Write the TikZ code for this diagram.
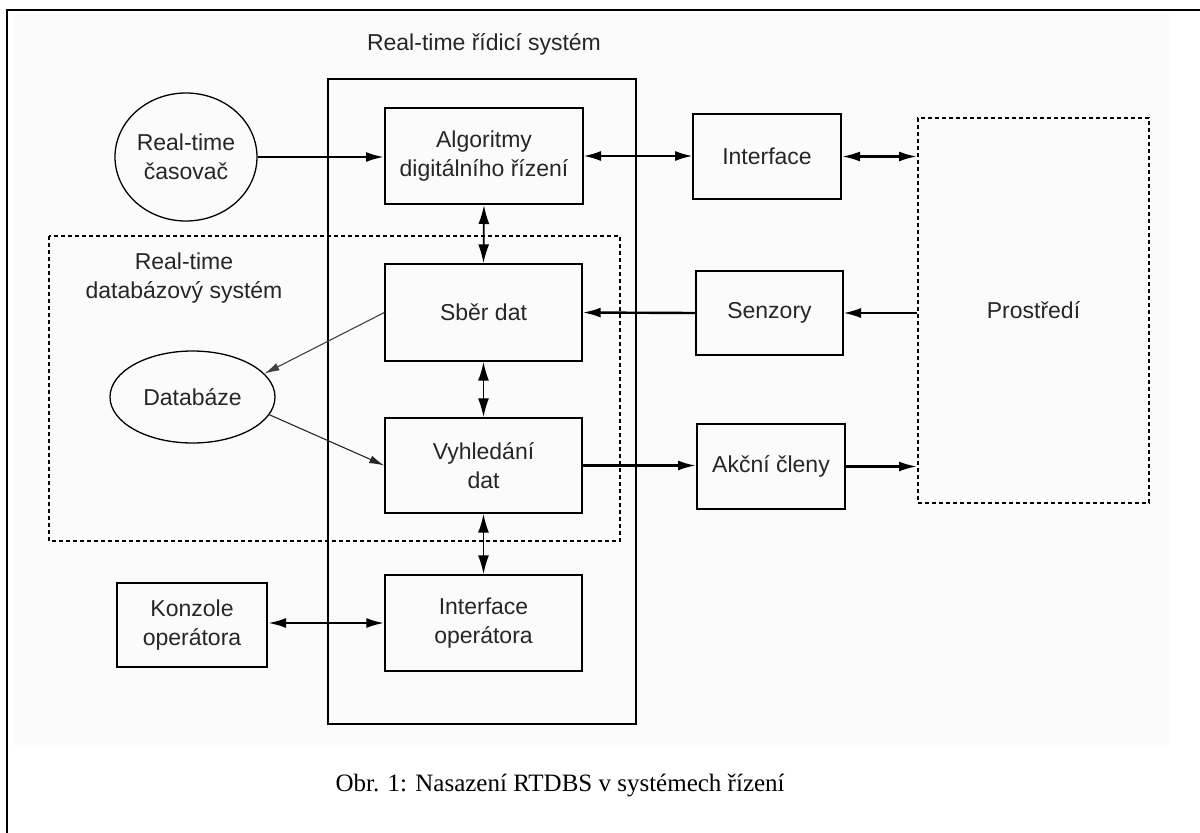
\documentclass[tikz,border=0pt]{standalone}
\usepackage{fontspec}
\setmainfont{Liberation Serif}
\newfontfamily\diagfont{Liberation Sans}
\usetikzlibrary{arrows.meta,shapes.geometric}
\definecolor{podklad}{RGB}{250,251,250}

\begin{document}
\begin{tikzpicture}[x=1pt,y=-1pt,
    txt/.style={font=\diagfont\fontsize{23}{29}\selectfont,text=black!85,align=center},
    blok/.style={txt,draw,line width=2pt,inner sep=0pt},
    tenkyblok/.style={blok,line width=1.4pt},
    elip/.style={txt,draw,ellipse,line width=1.3pt,inner sep=0pt},
    tecky/.style={draw,line width=2pt,dash pattern=on 4pt off 3pt},
    sip/.style={line width=2.4pt,-{Latex[length=18pt,width=10pt]}},
    dvojsip/.style={line width=2.4pt,{Latex[length=18pt,width=10pt]}-{Latex[length=18pt,width=10pt]}},
    tenkysip/.style={line width=1.3pt,-{Latex[length=17pt,width=10pt]}},
    tenkydvojsip/.style={line width=1.3pt,{Latex[length=17pt,width=10pt]}-{Latex[length=17pt,width=10pt]}},
    svislysip/.style={line width=1.8pt,{Latex[length=19pt,width=11pt]}-{Latex[length=19pt,width=11pt]}},
    dbsip/.style={line width=1.1pt,-{Latex[length=15pt,width=8pt]}}]
      \useasboundingbox (0,0) rectangle (1200,833);
      \fill[podklad] (13,14) rectangle (1170,745);
      \draw[line width=2.4pt] (7,833)--(7,10)--(1200,10);
      \draw[line width=2pt] (328,79) rectangle (636,724);
      \draw[tecky] (49,236) rectangle (620,541);
      \node[txt] (titul) at (484,44) {Real-time řídicí systém};
      \node[txt] (dblbl) at (184,278) {Real-time\\databázový systém};
      \node[elip,minimum width=142,minimum height=128] (cas) at (186,157) {Real-time\\časovač};
      \node[blok,minimum width=198,minimum height=96] (alg) at (484,156) {Algoritmy\\digitálního řízení};
      \node[blok,minimum width=148,minimum height=85] (intf) at (767,156.5) {Interface};
      \node[tecky,txt,inner sep=0pt,minimum width=231,minimum height=385] (prost) at (1033.5,310.5) {Prostředí};
      \node[tenkyblok,minimum width=197,minimum height=97] (sber) at (483.5,312.5) {Sběr dat};
      \node[blok,minimum width=147,minimum height=84] (senz) at (769.5,313) {Senzory};
      \node[elip,minimum width=165,minimum height=92] (dbz) at (192.5,397) {Databáze};
      \node[tenkyblok,minimum width=197,minimum height=95] (vyhl) at (483.5,465.5) {Vyhledání\\dat};
      \node[blok,minimum width=148,minimum height=85] (akc) at (771,466.5) {Akční členy};
      \node[tenkyblok,minimum width=197,minimum height=96] (iop) at (483.5,623) {Interface\\operátora};
      \node[blok,minimum width=150,minimum height=84] (konz) at (192,625) {Konzole\\operátora};
      \node[font=\fontsize{25}{30}\selectfont,anchor=west] (popis) at (332,785) {Obr. 1: Nasazení RTDBS v systémech řízení};
      \draw[sip] (cas.east)--(cas.east-|alg.west);
      \draw[tenkydvojsip] (alg.east)--(alg.east-|intf.west);
      \draw[dvojsip] (intf.east)--(intf.east-|prost.west);
      \draw[svislysip] (alg.south)--(sber.north);
      \draw[svislysip] (sber.south)--(vyhl.north);
      \draw[svislysip] (vyhl.south)--(iop.north);
      \draw[sip] (senz.west)--(sber.east);
      \draw[tenkysip] (prost.west|-senz.east)--(senz.east);
      \draw[sip] (vyhl.east)--(vyhl.east-|akc.west);
      \draw[sip] (akc.east)--(akc.east-|prost.west);
      \draw[dvojsip] (iop.west-|konz.east)--(iop.west);
      \draw[dbsip,black!75] (sber.west)--(dbz.18);
      \draw[dbsip,black!85] (dbz.-13)--(vyhl.west);
    \end{tikzpicture}
\end{document}
